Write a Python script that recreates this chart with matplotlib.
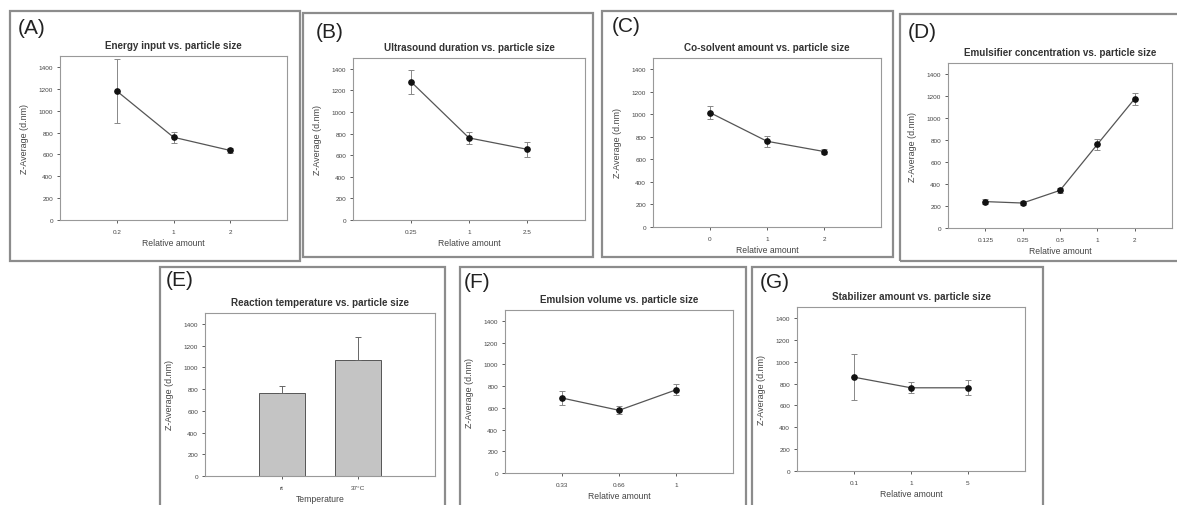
import matplotlib
matplotlib.use("Agg")
import matplotlib.pyplot as plt
from matplotlib.patches import Rectangle

plt.rcParams['font.family'] = ['Liberation Sans', 'DejaVu Sans']

W, H = 1177, 506

# ---- data ----
titles = ["Energy input vs. particle size",
          "Ultrasound duration vs. particle size",
          "Co-solvent amount vs. particle size",
          "Emulsifier concentration vs. particle size",
          "Reaction temperature vs. particle size",
          "Emulsion volume vs. particle size",
          "Stabilizer amount vs. particle size"]
panel_labels = ["(A)", "(B)", "(C)", "(D)", "(E)", "(F)", "(G)"]

a_cats = ["0.2", "1", "2"]
a_vals = [1180, 757, 636]
a_err = [290, 50, 20]

b_cats = ["0.25", "1", "2.5"]
b_vals = [1280, 760, 655]
b_err = [110, 55, 70]

c_cats = ["0", "1", "2"]
c_vals = [1015, 761, 670]
c_err = [55, 50, 25]

d_cats = ["0.125", "0.25", "0.5", "1", "2"]
d_vals = [240, 227, 342, 760, 1175]
d_err = [20, 15, 25, 50, 55]

e_cats = ["rt", "37°C"]
e_vals = [765, 1070]
e_err = [60, 210]

f_cats = ["0.33", "0.66", "1"]
f_vals = [690, 577, 765]
f_err = [65, 35, 50]

g_cats = ["0.1", "1", "5"]
g_vals = [858, 761, 761]
g_err = [212, 50, 70]

xlabels = ["Relative amount"] * 4 + ["Temperature"] + ["Relative amount"] * 2
ylabel = "Z-Average (d.nm)"
yticks = [0, 200, 400, 600, 800, 1000, 1200, 1400]

# ---- layout (pixels) ----
frames = [(10, 12, 300, 262), (303, 14, 593, 258), (602, 12, 893, 258),
          (900, 15, 1180, 262), (160, 268, 445, 510), (460, 268, 746, 510),
          (752, 268, 1043, 510)]
axes_px = [(60, 57, 287, 221), (353, 59, 585, 221), (653, 59, 881, 228),
           (948, 64, 1172, 229), (205, 314, 435, 477), (505, 311, 733, 474),
           (797, 308, 1025, 472)]
label_pos = [(18, 29), (316, 33), (612, 27), (908, 32), (166, 280), (464, 282), (760, 282)]

fig = plt.figure(figsize=(W / 100, H / 100), dpi=100)
fig.patch.set_facecolor('white')

for (l, t, r, b) in frames:
    fig.patches.append(Rectangle((l / W, 1 - b / H), (r - l) / W, (b - t) / H,
                                 transform=fig.transFigure, fill=False,
                                 edgecolor='#8c8c8c', lw=1.6))

datasets = [(a_cats, a_vals, a_err), (b_cats, b_vals, b_err), (c_cats, c_vals, c_err),
            (d_cats, d_vals, d_err), (e_cats, e_vals, e_err), (f_cats, f_vals, f_err),
            (g_cats, g_vals, g_err)]

for i, ((cats, vals, errs), (l, t, r, b)) in enumerate(zip(datasets, axes_px)):
    ax = fig.add_axes([l / W, 1 - b / H, (r - l) / W, (b - t) / H])
    xs = list(range(len(cats)))
    if i == 4:
        ax.bar(xs, vals, width=0.6, color='#c4c4c4', edgecolor='#555555', lw=0.7, zorder=2)
        ax.errorbar(xs, vals, yerr=[[0] * len(errs), errs], fmt='none', ecolor='#666666',
                    elinewidth=0.7, capsize=2, capthick=0.7, zorder=3)
    else:
        ax.errorbar(xs, vals, yerr=errs, fmt='none', ecolor='#888888',
                    elinewidth=0.7, capsize=2, capthick=0.7, zorder=2)
        ax.plot(xs, vals, color='#555555', lw=0.9, zorder=3)
        ax.plot(xs, vals, 'o', color='#111111', ms=3.8, zorder=4)
    ax.set_xlim(-1, len(cats))
    ax.set_ylim(0, 1500)
    ax.set_yticks(yticks)
    ax.set_xticks(xs)
    ax.set_xticklabels(cats)
    ax.tick_params(labelsize=4.6, colors='#444444', length=2, width=0.6, pad=3)
    ax.tick_params(axis='x', pad=4.5)
    for s in ax.spines.values():
        s.set_color('#999999')
        s.set_linewidth(0.8)
    ax.set_title(titles[i], fontsize=7.1, fontweight='bold', color='#333333', pad=6)
    ax.set_xlabel(xlabels[i], fontsize=6.2, color='#444444', labelpad=3)
    ax.set_ylabel(ylabel, fontsize=6.4, color='#444444', labelpad=7)
    lx, ly = label_pos[i]
    fig.text(lx / W, 1 - ly / H, panel_labels[i], fontsize=15, color='#222222',
             ha='left', va='center')

fig.savefig("out.png", dpi=100, facecolor='white')
